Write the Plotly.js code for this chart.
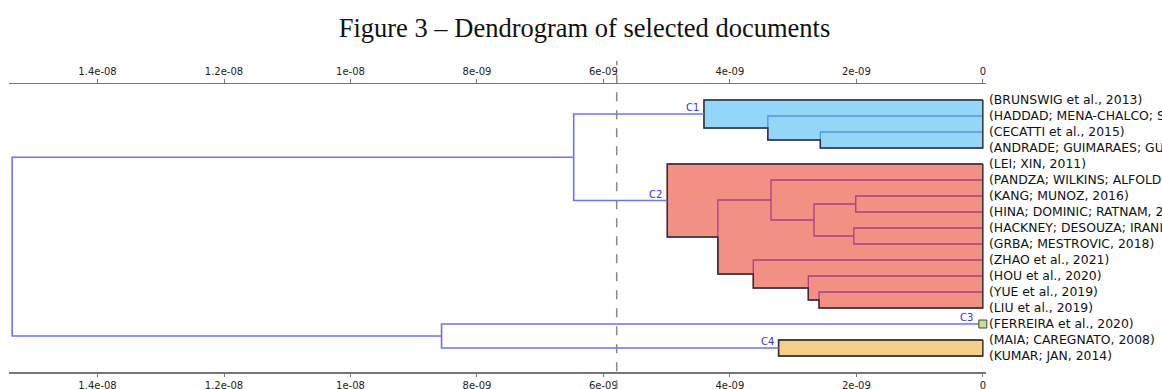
<!DOCTYPE html>
<html>
<head>
<meta charset="utf-8">
<script src="https://cdn.plot.ly/plotly-3.0.1.min.js"></script>
<style>html,body{margin:0;padding:0;background:#fff;}#chart{width:1162px;height:389px;}</style>
</head>
<body>
<div id="chart"></div>
<script>
// ---- data ----
const leafLabels = [
  "(BRUNSWIG et al., 2013)",
  "(HADDAD; MENA-CHALCO; SIDONE, 2017)",
  "(CECATTI et al., 2015)",
  "(ANDRADE; GUIMARAES; GUIMARAES, 2016)",
  "(LEI; XIN, 2011)",
  "(PANDZA; WILKINS; ALFOLDI, 2011)",
  "(KANG; MUNOZ, 2016)",
  "(HINA; DOMINIC; RATNAM, 2019)",
  "(HACKNEY; DESOUZA; IRANI, 2012)",
  "(GRBA; MESTROVIC, 2018)",
  "(ZHAO et al., 2021)",
  "(HOU et al., 2020)",
  "(YUE et al., 2019)",
  "(LIU et al., 2019)",
  "(FERREIRA et al., 2020)",
  "(MAIA; CAREGNATO, 2008)",
  "(KUMAR; JAN, 2014)"
];
// linkage: merge k creates node (leafCount + k)
const mergeA = [6, 8, 2, 12, 17, 11, 15, 5, 1, 10, 24, 0, 4, 28, 14, 30];
const mergeB = [7, 9, 3, 13, 18, 20, 16, 21, 19, 22, 26, 25, 27, 29, 23, 31];
const mergeHeight = [2.01e-9, 2.04e-9, 2.57e-9, 2.59e-9, 2.67e-9, 2.76e-9, 3.23e-9, 3.35e-9,
                     3.40e-9, 3.63e-9, 4.19e-9, 4.41e-9, 4.99e-9, 6.47e-9, 8.56e-9, 15.35e-9];
const cutHeight = 5.79e-9;
const clusterNames = ["C1", "C2", "C3", "C4"];
const clusterNodes = [28, 29, 14, 23];
const tickValues = [0, 2e-9, 4e-9, 6e-9, 8e-9, 1e-8, 1.2e-8, 1.4e-8];
const tickLabels = ["0", "2e-09", "4e-09", "6e-09", "8e-09", "1e-08", "1.2e-08", "1.4e-08"];

// ---- styles ----
const clusterFill = ["#93d6f8", "#f29083", "#c4e28c", "#f8cf88"];
const clusterInner = ["#5592e6", "#a8408a", "#555555", "#555555"];
const linkColor = "#7070f4";
const outlineColor = "#333333";

// ---- structure ----
const nLeaf = leafLabels.length;
const nodeY = [], nodeH = [];
for (let i = 0; i < nLeaf; i++) { nodeY.push(i + 1); nodeH.push(0); }
for (let k = 0; k < mergeA.length; k++) {
  nodeY.push((nodeY[mergeA[k]] + nodeY[mergeB[k]]) / 2);
  nodeH.push(mergeHeight[k]);
}
function descMerges(node) {
  if (node < nLeaf) return [];
  const k = node - nLeaf;
  return [k].concat(descMerges(mergeA[k]), descMerges(mergeB[k]));
}
const mergeCluster = mergeA.map(() => -1);
clusterNodes.forEach((nd, c) => descMerges(nd).forEach(k => mergeCluster[k] = c));

function uPath(k) {
  const a = mergeA[k], b = mergeB[k];
  return {x: [nodeH[a], mergeHeight[k], mergeHeight[k], nodeH[b], null],
          y: [nodeY[a], nodeY[a], nodeY[b], nodeY[b], null]};
}

const traces = [];
// cluster fills + inner links + outline
clusterNodes.forEach((nd, c) => {
  const ks = descMerges(nd);
  if (ks.length === 0) return;
  const rects = ks.map(k => ({h: mergeHeight[k], y0: nodeY[mergeA[k]], y1: nodeY[mergeB[k]]}));
  const ys = Array.from(new Set(rects.flatMap(r => [r.y0, r.y1]))).sort((p, q) => p - q);
  const px = [0], py = [ys[0]];
  for (let i = 0; i < ys.length - 1; i++) {
    const m = (ys[i] + ys[i + 1]) / 2;
    const L = Math.max(...rects.filter(r => Math.min(r.y0, r.y1) <= m && Math.max(r.y0, r.y1) >= m).map(r => r.h));
    px.push(L, L); py.push(ys[i], ys[i + 1]);
  }
  px.push(0, 0); py.push(ys[ys.length - 1], ys[0]);
  traces.push({type: "scatter", mode: "lines", x: px, y: py, fill: "toself", fillcolor: clusterFill[c],
               line: {width: 0, color: clusterFill[c]}, hoverinfo: "skip", showlegend: false});
  const ix = [], iy = [];
  ks.forEach(k => { const p = uPath(k); ix.push(...p.x); iy.push(...p.y); });
  traces.push({type: "scatter", mode: "lines", x: ix, y: iy, line: {color: clusterInner[c], width: 1.3},
               hoverinfo: "skip", showlegend: false});
  traces.push({type: "scatter", mode: "lines", x: px, y: py, line: {color: outlineColor, width: 1.5},
               hoverinfo: "skip", showlegend: false});
});
// links above cut
const ox = [], oy = [];
mergeA.forEach((_, k) => { if (mergeCluster[k] < 0) { const p = uPath(k); ox.push(...p.x); oy.push(...p.y); } });
traces.push({type: "scatter", mode: "lines", x: ox, y: oy, line: {color: linkColor, width: 1.6},
             hoverinfo: "skip", showlegend: false});
// singleton clusters
clusterNodes.forEach((nd, c) => {
  if (nd < nLeaf) traces.push({type: "scatter", mode: "markers", x: [nodeH[nd]], y: [nodeY[nd]],
    marker: {symbol: "square", size: 8, color: clusterFill[c], line: {color: "#444", width: 1}},
    cliponaxis: false, hoverinfo: "skip", showlegend: false});
});
// dummy trace for top axis
traces.push({type: "scatter", mode: "markers", x: [0], y: [1], xaxis: "x2", marker: {opacity: 0},
             hoverinfo: "skip", showlegend: false});

const annotations = clusterNodes.map((nd, c) => ({
  x: nodeH[nd], y: nodeY[nd], xref: "x", yref: "y", text: clusterNames[c], showarrow: false,
  xanchor: "right", yanchor: "bottom", xshift: nd < nLeaf ? -8 : -3, yshift: -1,
  font: {family: "DejaVu Sans", size: 10, color: "#3333dd"}
}));

const xRange = [15.40e-9, -0.05e-9];
const axisCommon = {
  range: xRange, autorange: false, tickvals: tickValues, ticktext: tickLabels,
  ticks: "outside", ticklen: 4, tickcolor: "#777", showline: true, linecolor: "#777", linewidth: 1.5,
  showgrid: false, zeroline: false, tickfont: {family: "DejaVu Sans", size: 10, color: "#222"}, fixedrange: true
};

const layout = {
  width: 1162, height: 389,
  margin: {l: 9, r: 176, t: 84, b: 17},
  paper_bgcolor: "#fff", plot_bgcolor: "#fff",
  title: {text: "Figure 3 – Dendrogram of selected documents", x: 0.503, xanchor: "center",
          y: 0.93, yanchor: "middle", font: {family: "Liberation Serif", size: 26.5, color: "#111"}},
  xaxis: Object.assign({}, axisCommon, {side: "bottom", ticklen: 3}),
  xaxis2: Object.assign({}, axisCommon, {side: "top", overlaying: "x", anchor: "y"}),
  yaxis: {range: [18, 0], autorange: false, side: "right", tickvals: leafLabels.map((_, i) => i + 1),
          ticktext: leafLabels, ticks: "", showgrid: false, zeroline: false, showline: false,
          ticklabelstandoff: 2,
          tickfont: {family: "DejaVu Sans", size: 12.4, color: "#111"}, automargin: false, fixedrange: true},
  shapes: [{type: "line", xref: "x", yref: "paper", x0: cutHeight, x1: cutHeight, y0: -0.06, y1: 1.08,
            line: {color: "#888", width: 1.5, dash: "dash"}}],
  annotations: annotations,
  showlegend: false
};

Plotly.newPlot("chart", traces, layout, {displayModeBar: false, staticPlot: true});
</script>
</body>
</html>
